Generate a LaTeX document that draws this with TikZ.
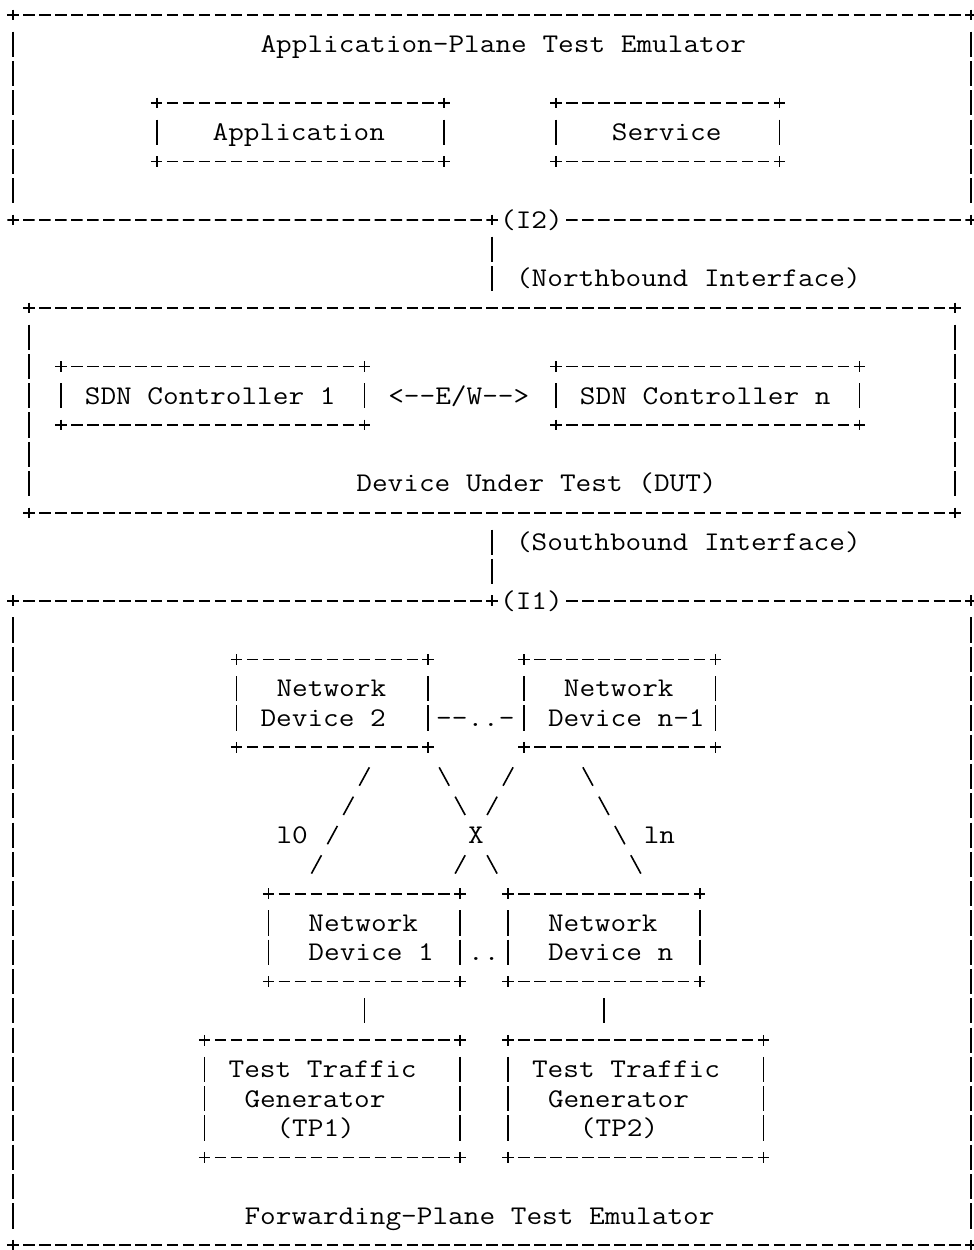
\documentclass[tikz,border=0pt]{standalone}
\usepackage{graphicx}
\usetikzlibrary{calc}
\newcommand\asciifont{\fontsize{27pt}{29pt}\selectfont\ttfamily}
\newcommand\hsc{1.1266}
\tikzset{
  asciiline/.style={line width=1.6pt, black},
  hdash/.style={asciiline, dash pattern=on 11.5pt off 4.47pt},
  vdash/.style={asciiline, dash pattern=on 25.2pt off 4.09pt},
  plusarm/.style={asciiline},
  dslash/.style={asciiline, dash pattern=on 20.9pt off 12.46pt},
  dcross/.style={asciiline, dash pattern=on 20.9pt off 12.46pt on 20.9pt off 45.82pt},
  gridbox/.style={rectangle, draw=none, inner sep=0pt, outer sep=0pt},
  lbl/.style={anchor=base west, inner sep=0pt, outer sep=0pt, font=\asciifont, xshift=-7.985pt, yshift=-8.3pt},
}
% box node on the character grid: name, col1, row1, col2, row2
\newcommand\abox[5]{\node[gridbox, minimum width={(#4-#2)*15.97pt}, minimum height={(#5-#3)*29.29pt}] (#1) at ({(#2+#4)/2},{(#3+#5)/2}) {};}
\newcommand\aplus[1]{\draw[plusarm] ([yshift=5.35pt]#1) -- ([yshift=-5.35pt]#1);}
\newcommand\asides[1]{%
  \draw[vdash] ([yshift=-16.69pt]#1.north west) -- ([yshift=16.69pt]#1.south west);
  \draw[vdash] ([yshift=-16.69pt]#1.north east) -- ([yshift=16.69pt]#1.south east);
  \aplus{#1.north west}\aplus{#1.north east}\aplus{#1.south west}\aplus{#1.south east}}
\newcommand\aedgetop[1]{\draw[hdash] ([xshift=-5.75pt]#1.north west) -- ([xshift=5.75pt]#1.north east);}
\newcommand\aedgebottom[1]{\draw[hdash] ([xshift=-5.75pt]#1.south west) -- ([xshift=5.75pt]#1.south east);}
\newcommand\aframe[1]{\aedgetop{#1}\aedgebottom{#1}\asides{#1}}
% text label: name, col, row, text
\newcommand\alab[4]{\node[lbl] (#1) at (#2,#3) {\scalebox{\hsc}[1]{#4}};}

\begin{document}
\begin{tikzpicture}[x=15.97pt, y=-29.29pt]
\fill[white] (0pt,0pt) rectangle (974pt,-1250pt);
\useasboundingbox (0pt,0pt) rectangle (974pt,-1250pt);
\begin{scope}[shift={(13pt,-15pt)}]

% ---------- Application-Plane Test Emulator ----------
\abox{appemu}{0}{0}{60}{7}
\aedgetop{appemu}\asides{appemu}
\coordinate (i2) at (30,7);
\coordinate (i2r) at (35,7);
\draw[hdash] ([xshift=-5.75pt]appemu.south west) -- ([xshift=5.75pt]i2);
\draw[hdash] ([xshift=-5.75pt]i2r) -- ([xshift=5.75pt]appemu.south east);
\aplus{i2}
\alab{apptitle}{16}{1}{Application-Plane Test Emulator}
\abox{app}{9}{3}{27}{5}\aframe{app}
\alab{applbl}{13}{4}{Application}
\abox{svc}{34}{3}{48}{5}\aframe{svc}
\alab{svclbl}{38}{4}{Service}
\alab{i2lbl}{31}{7}{(I2)}

% ---------- Device Under Test ----------
\abox{dut}{1}{10}{59}{17}\aframe{dut}
\draw[vdash] ([yshift=-16.69pt]i2) -- ([yshift=16.69pt]dut.north);
\alab{nbi}{32}{9}{(Northbound Interface)}
\abox{sdn1}{3}{12}{22}{14}\aframe{sdn1}
\alab{sdn1lbl}{5}{13}{SDN Controller 1}
\abox{sdnn}{34}{12}{53}{14}\aframe{sdnn}
\alab{sdnnlbl}{36}{13}{SDN Controller n}
\alab{ew}{24}{13}{<-\kern0pt-E/W-\kern0pt->}
\alab{duttitle}{22}{16}{Device Under Test (DUT)}

% ---------- Forwarding-Plane Test Emulator ----------
\abox{fwdemu}{0}{20}{60}{42}
\aedgebottom{fwdemu}\asides{fwdemu}
\coordinate (i1) at (30,20);
\coordinate (i1r) at (35,20);
\draw[hdash] ([xshift=-5.75pt]fwdemu.north west) -- ([xshift=5.75pt]i1);
\draw[hdash] ([xshift=-5.75pt]i1r) -- ([xshift=5.75pt]fwdemu.north east);
\aplus{i1}
\draw[vdash] ([yshift=-16.69pt]dut.south) -- ([yshift=16.69pt]i1);
\alab{sbi}{32}{18}{(Southbound Interface)}
\alab{i1lbl}{31}{20}{(I1)}

\abox{nd2}{14}{22}{26}{25}\aframe{nd2}
\alab{nd2a}{17}{23}{Network}
\alab{nd2b}{16}{24}{Device 2}
\abox{ndm}{32}{22}{44}{25}\aframe{ndm}
\alab{ndma}{35}{23}{Network}
\alab{ndmb}{34}{24}{Device n-1}
\alab{link2}{27}{24}{-\kern0pt-..-}

\abox{nd1}{16}{30}{28}{33}\aframe{nd1}
\alab{nd1a}{19}{31}{Network}
\alab{nd1b}{19}{32}{Device 1}
\abox{ndn}{31}{30}{43}{33}\aframe{ndn}
\alab{ndna}{34}{31}{Network}
\alab{ndnb}{34}{32}{Device n}
\alab{link1}{29}{32}{..}

% diagonal links
\coordinate (l0a) at (22,26); \coordinate (l0b) at (19,29);
\draw[dslash] ([xshift=5pt,yshift=9.17pt]l0a) -- ([xshift=-5pt,yshift=-9.17pt]l0b);
\coordinate (xa) at (27,26); \coordinate (xb) at (30,29);
\draw[dcross] ([xshift=-5pt,yshift=9.17pt]xa) -- ([xshift=5pt,yshift=-9.17pt]xb);
\coordinate (ya) at (31,26); \coordinate (yb) at (28,29);
\draw[dcross] ([xshift=5pt,yshift=9.17pt]ya) -- ([xshift=-5pt,yshift=-9.17pt]yb);
\coordinate (lna) at (36,26); \coordinate (lnb) at (39,29);
\draw[dslash] ([xshift=-5pt,yshift=9.17pt]lna) -- ([xshift=5pt,yshift=-9.17pt]lnb);
\alab{l0lbl}{17}{28}{l0}
\alab{xlbl}{29}{28}{X}
\alab{lnlbl}{40}{28}{ln}

% traffic generators
\abox{ttg1}{12}{35}{28}{39}\aframe{ttg1}
\alab{ttg1a}{14}{36}{Test Traffic}
\alab{ttg1b}{15}{37}{Generator}
\alab{ttg1c}{17}{38}{(TP1)}
\abox{ttg2}{31}{35}{47}{39}\aframe{ttg2}
\alab{ttg2a}{33}{36}{Test Traffic}
\alab{ttg2b}{34}{37}{Generator}
\alab{ttg2c}{36}{38}{(TP2)}
\coordinate (t1top) at (nd1.south |- ttg1.north);
\draw[vdash] ([yshift=-16.69pt]nd1.south) -- ([yshift=16.69pt]t1top);
\coordinate (t2top) at (ndn.south |- ttg2.north);
\draw[vdash] ([yshift=-16.69pt]ndn.south) -- ([yshift=16.69pt]t2top);

\alab{fwdtitle}{15}{41}{Forwarding-Plane Test Emulator}
\end{scope}
\end{tikzpicture}
\end{document}
